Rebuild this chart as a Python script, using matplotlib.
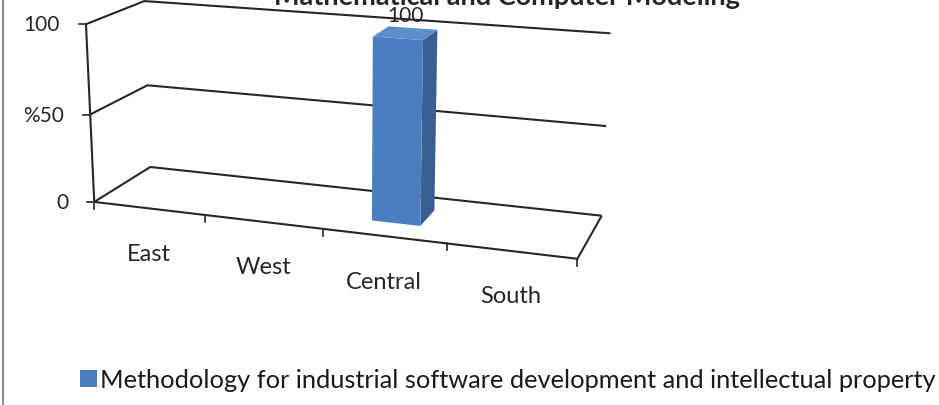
import numpy as np
import matplotlib.pyplot as plt
from matplotlib.patches import Polygon, Patch

plt.rcParams['font.family'] = ['Lato', 'DejaVu Sans']

title = 'Mathematical and Computer Modeling'
categories = ['East', 'West', 'Central', 'South']
values = [0, 0, 100, 0]
series_name = 'Methodology for industrial software development and intellectual property'
y_ticks = [0, 50, 100]
y_tick_labels = ['0', '%50', '100']

# camera for the 3D box: floor depth and wall height in category units,
# view angles in degrees, perspective distance, pixel scale and centre
box_depth, box_height = 1.03, 1.49
azim, elev = 19.26, 15.40
persp = 12.0
scale, cx, cy = 125.3, 344.5, 121.2

bar_width = 0.4   # fraction of a category slot
line_color = '#262626'
text_color = '#262626'
bar_front, bar_side, bar_top = '#4A7EBF', '#395F93', '#5C8ECC'


def project(pts):
    """(category, depth 0..1, value) -> pixel position on the figure"""
    pts = np.atleast_2d(np.asarray(pts, float))
    u, d, v = pts.T
    n = len(categories)
    px = u - n / 2
    py = d * box_depth - box_depth / 2
    pz = v / y_ticks[-1] * box_height - box_height / 2
    a, e = np.radians(azim), np.radians(elev)
    x1 = np.cos(a) * px + np.sin(a) * py
    y1 = -np.sin(a) * px + np.cos(a) * py
    y2 = np.cos(e) * y1 - np.sin(e) * pz
    z2 = np.sin(e) * y1 + np.cos(e) * pz
    s = persp / (persp + y2)
    return np.column_stack([cx + scale * s * x1, cy - scale * s * z2])


fig = plt.figure(figsize=(9.39, 4.06), dpi=100)
ax = fig.add_axes([0, 0, 1, 1])
ax.set_xlim(0, 939)
ax.set_ylim(406, 0)
ax.axis('off')


def line3d(pts, lw=1.5):
    xy = project(pts)
    ax.plot(xy[:, 0], xy[:, 1], color=line_color, lw=lw, solid_capstyle='butt',
            solid_joinstyle='miter')


n = len(categories)

# side wall and back wall gridlines
for v in y_ticks:
    line3d([(0, 0, v), (0, 1, v), (n, 1, v)])

# value axis with ticks and labels
line3d([(0, 0, y_ticks[0]), (0, 0, y_ticks[-1])])
for v, lab in zip(y_ticks, y_tick_labels):
    x, y = project((0, 0, v))[0]
    ax.plot([x - 7, x], [y, y], color=line_color, lw=1.2)
    ax.text(x - 26, y, lab, ha='right', va='center', fontsize=15, color=text_color)

# floor outline and category ticks
line3d([(0, 0, 0), (n, 0, 0), (n, 1, 0)])
for i in range(n + 1):
    x, y = project((i, 0, 0))[0]
    ax.plot([x, x], [y, y + 7], color=line_color, lw=1.2)

for i, cat in enumerate(categories):
    x, y = project((i + 0.5, 0, 0))[0]
    ax.text(x, y + 45, cat, ha='center', va='center', fontsize=17, color=text_color)

# columns
d0, d1 = 0.5 - bar_width / 2 / box_depth, 0.5 + bar_width / 2 / box_depth
for i, val in enumerate(values):
    if val <= 0:
        continue
    u0, u1 = i + 0.5 - bar_width / 2, i + 0.5 + bar_width / 2
    front = project([(u0, d0, 0), (u1, d0, 0), (u1, d0, val), (u0, d0, val)])
    side = project([(u1, d0, 0), (u1, d1, 0), (u1, d1, val), (u1, d0, val)])
    top = project([(u0, d0, val), (u1, d0, val), (u1, d1, val), (u0, d1, val)])
    ax.add_patch(Polygon(side, closed=True, facecolor=bar_side, edgecolor='none', zorder=5))
    ax.add_patch(Polygon(front, closed=True, facecolor=bar_front, edgecolor='none', zorder=5))
    ax.add_patch(Polygon(top, closed=True, facecolor=bar_top, edgecolor='none', zorder=5))
    x, y = project((i + 0.5, 0.5, val))[0]
    ax.text(x, y - 18, '%d' % val, ha='center', va='center', fontsize=15,
            color=text_color, zorder=6)

# title sits partly above the top edge
fig.text(507 / 939, 1 - 5 / 406, title, ha='center', va='baseline', fontsize=19.5,
         fontweight='bold', color=text_color)

# chart frame, only its left edge is in view
ax.plot([3, 3], [0, 406], color='#8c8c8c', lw=1.5)

fig.legend(handles=[Patch(facecolor=bar_front, edgecolor='none')], labels=[series_name],
           loc='center left', bbox_to_anchor=(80 / 939, 1 - 381 / 406), frameon=False,
           fontsize=18.3, handlelength=0.67, handleheight=0.67, handletextpad=0.12,
           borderpad=0, borderaxespad=0, labelcolor='#1a1a1a')

fig.savefig('out.png', dpi=100)
